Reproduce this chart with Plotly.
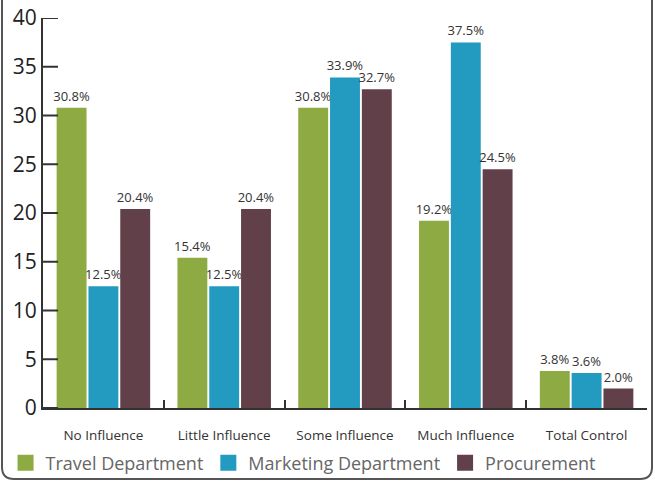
import plotly.graph_objects as go

categories = ["No Influence", "Little Influence", "Some Influence", "Much Influence", "Total Control"]
series_names = ["Travel Department", "Marketing Department", "Procurement"]
travel = [30.8, 15.4, 30.8, 19.2, 3.8]
marketing = [12.5, 12.5, 33.9, 37.5, 3.6]
procurement = [20.4, 20.4, 32.7, 24.5, 2.0]
y_ticks = [0, 5, 10, 15, 20, 25, 30, 35, 40]

colors = ["#8dab42", "#239abf", "#614049"]
FONT = "Open Sans"

fig = go.Figure()
for name, vals, col in zip(series_names, [travel, marketing, procurement], colors):
    fig.add_trace(go.Bar(
        x=categories, y=vals, name=name, marker=dict(color=col, line=dict(width=0)),
        text=[f"{v:.1f}%" for v in vals], textposition="outside", constraintext="none",
        textfont=dict(size=13, color="#333", family=FONT), cliponaxis=False,
        showlegend=False,
    ))
    fig.add_trace(go.Scatter(
        x=[None], y=[None], mode="markers", name=name,
        marker=dict(symbol="square", size=16, color=col),
    ))

W, H = 604.0, 390.0

# short y tick marks pointing into the plot, placed on the y scale
for t in y_ticks:
    fig.add_shape(type="line", xref="paper", yref="y", x0=0, x1=15 / W, y0=t, y1=t,
                  line=dict(color="#333", width=2), layer="above")

# rounded border
x0, x1 = -41 / W, 609 / W
y0, y1 = -71 / H, 1 + 30 / H
rx, ry = 12 / W, 12 / H
path = (f"M {x0} {y1} L {x0} {y0+ry} Q {x0} {y0} {x0+rx} {y0} "
        f"L {x1-rx} {y0} Q {x1} {y0} {x1} {y0+ry} L {x1} {y1}")
fig.add_shape(type="path", path=path, xref="paper", yref="paper",
              line=dict(color="#555", width=2))

fig.update_layout(
    template="none",
    width=655, height=483,
    margin=dict(l=43, r=8, t=18, b=75, autoexpand=False),
    paper_bgcolor="white", plot_bgcolor="white",
    barmode="group", bargap=0.21, bargroupgap=0.06,
    font=dict(family=FONT, color="#333"),
    legend=dict(orientation="h", x=-0.062, xanchor="left", y=-0.141, yanchor="middle",
                font=dict(size=18, color="#666", family=FONT), itemclick=False,
                bgcolor="rgba(0,0,0,0)"),
    xaxis=dict(showline=True, linecolor="#333", linewidth=2, ticks="inside", ticklen=8,
               tickwidth=2, tickcolor="#333", tickson="boundaries", showgrid=False,
               automargin=False, zeroline=False,
               tickfont=dict(size=13.5, color="#333"), ticklabelstandoff=14),
    yaxis=dict(range=[0, 40], tickmode="array", tickvals=y_ticks,
               showline=True, linecolor="#333", linewidth=2,
               ticks="", showgrid=False, automargin=False, zeroline=False,
               tickfont=dict(size=21, color="#222")),
)

fig.write_html("out.html")
